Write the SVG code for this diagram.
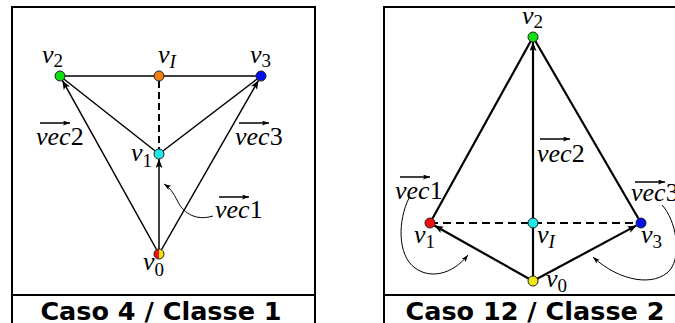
<svg xmlns="http://www.w3.org/2000/svg" width="675" height="323" viewBox="0 0 675 323">
<style>
.frame{fill:none;stroke:#000;stroke-width:2}
.e{fill:none;stroke:#000;stroke-width:1.5}
.et{fill:none;stroke:#000;stroke-width:2.2}
.d{fill:none;stroke:#000;stroke-width:2;stroke-dasharray:7 4}
.dt{fill:none;stroke:#000;stroke-width:2.2;stroke-dasharray:8 5}
.c{fill:none;stroke:#000;stroke-width:1}
.n{stroke:#222;stroke-width:1}
.m{font-family:"Liberation Serif","Times New Roman",serif;font-style:italic;font-size:26px;fill:#000}
.s{font-size:19px}
.u{font-style:normal}
.t{font-family:"DejaVu Sans",sans-serif;font-weight:bold;font-size:25.5px;fill:#000;text-anchor:middle}
</style>
<defs>
<marker id="ah" markerUnits="userSpaceOnUse" markerWidth="10" markerHeight="8" refX="9" refY="3.5" orient="auto">
<path d="M0,0 L9,3.5 L0,7 L2,3.5 z" fill="#000"/>
</marker>
<marker id="ahs" markerUnits="userSpaceOnUse" markerWidth="8" markerHeight="6" refX="7" refY="2.5" orient="auto">
<path d="M0,0 L7,2.5 L0,5 L1.5,2.5 z" fill="#000"/>
</marker>
</defs>

<g id="panel-left">
<rect class="frame" x="12" y="7" width="303" height="340"/>
<line class="frame" x1="12" y1="295" x2="315" y2="295"/>
<text class="t" x="161" y="320">Caso 4 / Classe 1</text>
</g>
<g id="panel-right">
<rect class="frame" x="384" y="7" width="330" height="340"/>
<line class="frame" x1="384" y1="295" x2="714" y2="295"/>
<text class="t" x="535" y="320">Caso 12 / Classe 2</text>
</g>

<g id="connectors">
<!-- left -->
<line class="e" x1="60" y1="76" x2="261" y2="76"/>
<line class="d" x1="159" y1="81" x2="159" y2="150"/>
<line class="e" x1="159" y1="154" x2="60" y2="76"/>
<line class="e" x1="159" y1="154" x2="261" y2="76"/>
<line class="e" x1="159" y1="254" x2="62.4" y2="80.4" marker-end="url(#ah)"/>
<line class="e" x1="159" y1="254" x2="258.5" y2="80.3" marker-end="url(#ah)"/>
<line class="e" x1="159" y1="254" x2="159" y2="159" marker-end="url(#ah)"/>
<path class="c" d="M213,216 C197,221 184,214 178,202 C173,192 170,188 164,184" marker-end="url(#ahs)"/>
<!-- right -->
<line class="et" x1="430" y1="223" x2="533" y2="37"/>
<line class="et" x1="641" y1="223" x2="533" y2="37"/>
<line class="dt" x1="430" y1="223" x2="641" y2="223"/>
<line class="et" x1="533" y1="281" x2="533" y2="42" marker-end="url(#ah)"/>
<line class="et" x1="533" y1="281" x2="434.4" y2="225.5" marker-end="url(#ah)"/>
<line class="et" x1="533" y1="281" x2="636.6" y2="225.4" marker-end="url(#ah)"/>
<path class="c" d="M409,198 C398,220 397,255 415,268 C430,279 452,275 468,255" marker-end="url(#ahs)"/>
<path class="c" d="M662,205 C676,220 682,255 670,270 C655,287 620,282 593,257" marker-end="url(#ahs)"/>
</g>

<!-- left nodes -->
<g id="L-v2"><circle class="n" cx="60" cy="76" r="5" fill="#10e010"/><text class="m" x="42" y="63">v<tspan class="s u" dy="4">2</tspan></text></g>
<g id="L-vI"><circle class="n" cx="159" cy="76" r="5" fill="#f08010"/><text class="m" x="158" y="63">v<tspan class="s" dy="5">I</tspan></text></g>
<g id="L-v3"><circle class="n" cx="261" cy="76" r="5" fill="#0010f0"/><text class="m" x="250" y="63">v<tspan class="s u" dy="4">3</tspan></text></g>
<g id="L-v1"><circle class="n" cx="159" cy="154" r="5" fill="#20e8e8"/><text class="m" x="131" y="161">v<tspan class="s u" dy="6">1</tspan></text></g>
<g id="L-v0">
<path d="M159,249 A5,5 0 0 0 159,259 z" fill="#f01010"/>
<path d="M159,249 A5,5 0 0 1 159,259 z" fill="#f0e010"/>
<circle cx="159" cy="254" r="5" fill="none" stroke="#222" stroke-width="1"/>
<text class="m" x="143" y="270">v<tspan class="s u" dy="6">0</tspan></text>
</g>
<g id="L-vec2"><line class="e" x1="40" y1="123" x2="70" y2="123" marker-end="url(#ahs)"/><text class="m" x="36" y="145">vec<tspan class="u">2</tspan></text></g>
<g id="L-vec3"><line class="e" x1="239" y1="123" x2="269" y2="123" marker-end="url(#ahs)"/><text class="m" x="235" y="145">vec<tspan class="u">3</tspan></text></g>
<g id="L-vec1"><line class="e" x1="219" y1="197" x2="249" y2="197" marker-end="url(#ahs)"/><text class="m" x="215" y="218">vec<tspan class="u">1</tspan></text></g>

<!-- right nodes -->
<g id="R-v2"><circle class="n" cx="533" cy="37" r="5" fill="#10e010"/><text class="m" x="522" y="24">v<tspan class="s u" dy="4">2</tspan></text></g>
<g id="R-v1"><circle class="n" cx="430" cy="223" r="5" fill="#f01010"/><text class="m" x="414" y="243">v<tspan class="s u" dy="5">1</tspan></text></g>
<g id="R-vI"><circle class="n" cx="533" cy="223" r="5" fill="#20e8e8"/><text class="m" x="537" y="243">v<tspan class="s" dy="5">I</tspan></text></g>
<g id="R-v3"><circle class="n" cx="641" cy="223" r="5" fill="#0010f0"/><text class="m" x="641" y="243">v<tspan class="s u" dy="5">3</tspan></text></g>
<g id="R-v0"><circle class="n" cx="533" cy="281" r="5" fill="#f0e810"/><text class="m" x="546" y="287">v<tspan class="s u" dy="5">0</tspan></text></g>
<g id="R-vec2"><line class="e" x1="540" y1="139" x2="570" y2="139" marker-end="url(#ahs)"/><text class="m" x="537" y="162">vec<tspan class="u">2</tspan></text></g>
<g id="R-vec1"><line class="e" x1="400" y1="177" x2="430" y2="177" marker-end="url(#ahs)"/><text class="m" x="395" y="199">vec<tspan class="u">1</tspan></text></g>
<g id="R-vec3"><line class="e" x1="635" y1="182" x2="665" y2="182" marker-end="url(#ahs)"/><text class="m" x="631" y="201">vec<tspan class="u">3</tspan></text></g>
</svg>
